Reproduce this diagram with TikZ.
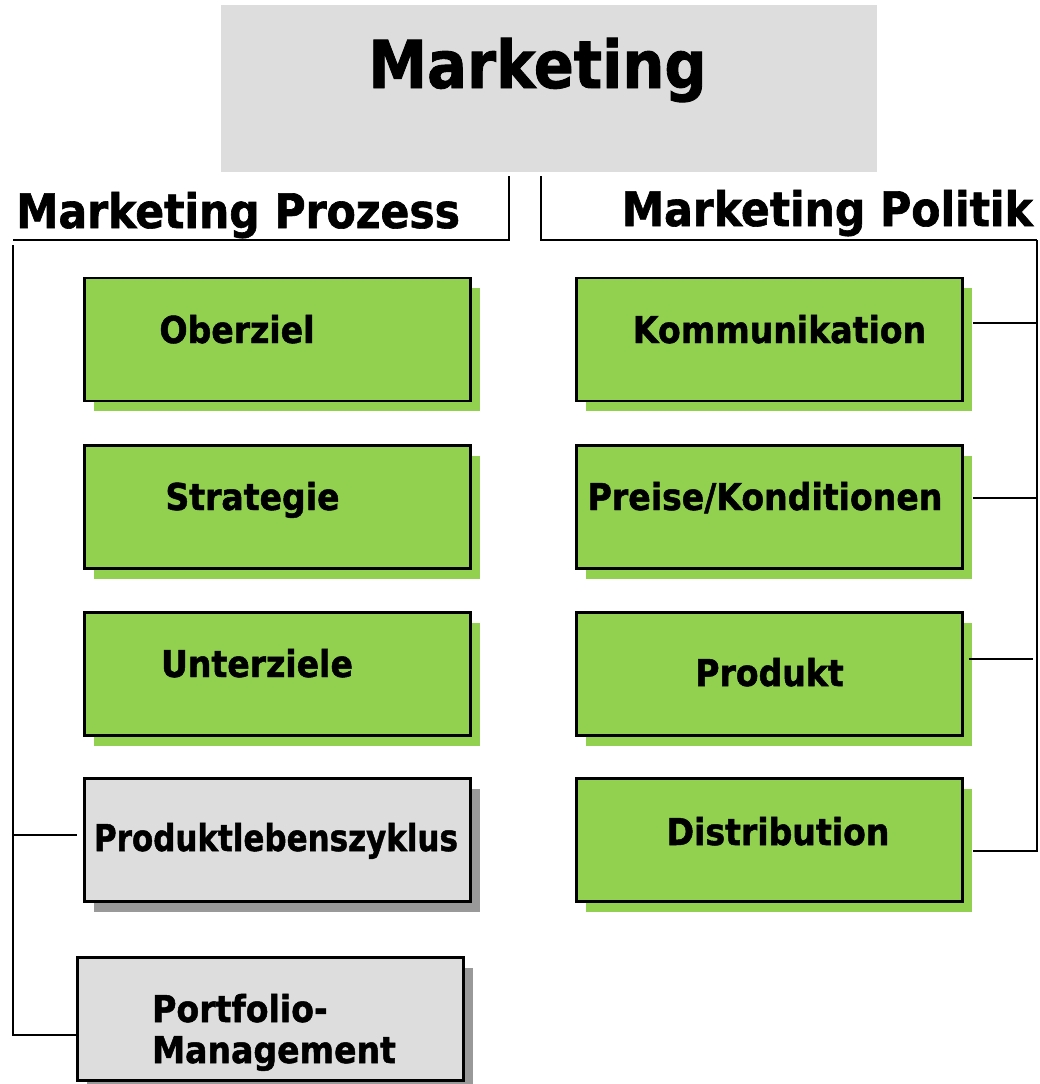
\documentclass[tikz,border=0pt]{standalone}
\usepackage{fontspec}
\newfontfamily\tah{DejaVu Sans}[FakeStretch=0.895,BoldFeatures={FakeStretch=0.895,FakeBold=1.3}]
\usetikzlibrary{shadows}
\definecolor{boxgreen}{HTML}{92D050}
\definecolor{boxgray}{HTML}{DDDDDD}
\definecolor{shadowgray}{HTML}{999999}
\begin{document}
\begin{tikzpicture}[x=1pt,y=-1pt,
  base/.style={rectangle,draw=black,line width=2.8pt,minimum width=386pt,minimum height=123pt,inner sep=0pt},
  greenbox/.style={base,fill=boxgreen,general shadow={fill=boxgreen,shadow xshift=9pt,shadow yshift=-10pt}},
  graybox/.style={base,fill=boxgray,general shadow={fill=shadowgray,shadow xshift=9pt,shadow yshift=-10pt}},
  boxtext/.style={inner sep=0pt,font=\tah\bfseries\fontsize{37}{41}\selectfont},
  headtext/.style={inner sep=0pt,font=\tah\bfseries\fontsize{47.5}{52}\selectfont},
  titletext/.style={inner sep=0pt,font=\tah\bfseries\fontsize{66}{72}\selectfont},
  link/.style={draw=black,line width=1.9pt}]
\useasboundingbox (0,0) rectangle (1040,1084);

% title block
\node[fill=boxgray,minimum width=656pt,minimum height=167pt,inner sep=0pt] (top) at (549,88.5) {};
\node[titletext,anchor=base] (toptext) at (537.5,88) {Marketing};

% column headings
\node[headtext,anchor=base west] (hleft) at (16,228) {Marketing Prozess};
\node[headtext,anchor=base east] (hright) at (1033,226) {Marketing Politik};

% left column
\node[greenbox] (obz) at (277.5,339.5) {};
\node[greenbox] (str) at (277.5,507) {};
\node[greenbox] (unt) at (277.5,674) {};
\node[graybox]  (plz) at (277.5,840) {};
\node[graybox]  (pfm) at (270.5,1019) {};

% right column
\node[greenbox] (kom) at (769.5,339.5) {};
\node[greenbox] (pre) at (769.5,507) {};
\node[greenbox] (pro) at (769.5,674) {};
\node[greenbox] (dis) at (769.5,840) {};

% box labels
\node[boxtext,anchor=base] (tobz) at (237,343) {Oberziel};
\node[boxtext,anchor=base] (tstr) at (252.5,510) {Strategie};
\node[boxtext,anchor=base] (tunt) at (257,677) {Unterziele};
\node[boxtext,anchor=base] (tplz) at (276,851) {\scalebox{0.935}[1]{Produktlebenszyklus}};
\node[boxtext,anchor=base west] (tpfm) at (152,1022)
  {\begin{tabular}[t]{@{}l@{}}Portfolio-\\Management\end{tabular}};
\node[boxtext,anchor=base] (tkom) at (779.5,343) {Kommunikation};
\node[boxtext,anchor=base] (tpre) at (765,510) {Preise/Konditionen};
\node[boxtext,anchor=base] (tpro) at (769.5,686) {Produkt};
\node[boxtext,anchor=base] (tdis) at (778,845) {Distribution};

% bracket lines under the headings
\coordinate (lhook) at (509,176);
\coordinate (lcorner) at (13,240);
\coordinate (ltop) at (13,245);
\coordinate (ljoin) at (13,835);
\coordinate (rhook) at (541,176);
\coordinate (rcorner) at (1037,240);

\draw[link] (lhook) |- (lcorner);
\draw[link] (rhook) |- (rcorner);

% left spine
\draw[link] (ltop) |- ([yshift=-16pt]pfm.west);
\draw[link] (ljoin) -- ([shift={(-6pt,5pt)}]plz.west);

% right spine
\draw[link] (rcorner) |- ([shift={(9pt,-11pt)}]dis.east);
\draw[link] ([shift={(9pt,16.5pt)}]kom.east) -- ++(64,0);
\draw[link] ([shift={(9pt,9pt)}]pre.east) -- ++(64,0);
\draw[link] ([shift={(5pt,15pt)}]pro.east) -- ++(64,0);
\end{tikzpicture}
\end{document}
